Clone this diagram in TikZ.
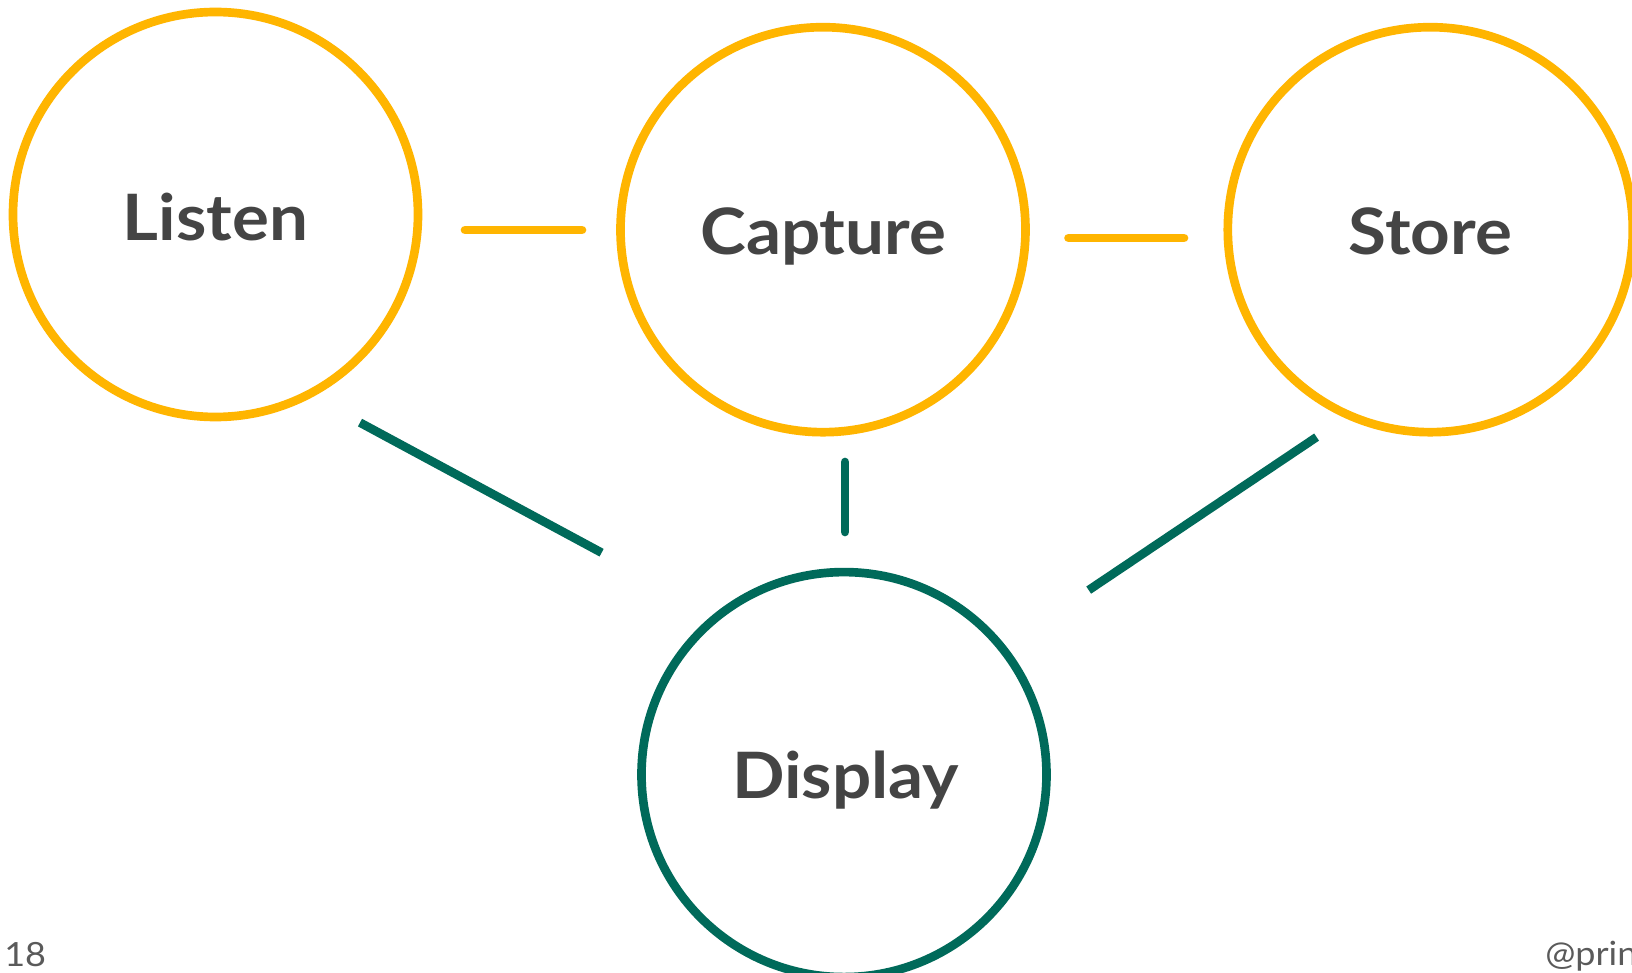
\documentclass[tikz,border=0pt]{standalone}
\usepackage{fontspec}
\setmainfont{Lato}
\newfontfamily\labelfont{Lato}[UprightFont=* Bold, FakeStretch=1.08]
\newfontfamily\footfont{Lato}[FakeStretch=1.08]
\usetikzlibrary{calc}
\definecolor{sunny}{HTML}{FFB500}
\definecolor{pine}{HTML}{006A5A}
\definecolor{ink}{HTML}{444444}
\definecolor{foot}{HTML}{5A5A5A}
\tikzset{
  ring/.style={circle, draw, line width=6.5pt, minimum size=303.75pt, inner sep=0pt},
  yring/.style={ring, draw=sunny},
  gring/.style={ring, draw=pine},
  word/.style={anchor=base, text=ink, font=\labelfont\fontsize{48}{48}\selectfont, inner sep=0pt},
  ylink/.style={draw=sunny, line width=6.5pt, line cap=round},
  glink/.style={draw=pine, line width=6.5pt},
  glinkr/.style={draw=pine, line width=6.5pt, line cap=round},
  footer/.style={text=foot, font=\footfont\fontsize{25}{25}\selectfont, inner sep=0pt}
}
\begin{document}
\begin{tikzpicture}[x=0.75pt, y=-0.75pt]
\useasboundingbox (0,0) rectangle (1632,973);
\clip (0,0) rectangle (1632,973);
\fill[white] (0,0) rectangle (1632,973);

\node[yring] (listen) at (215.5,214.5) {};
\node[yring] (capture) at (823,229.7) {};
\node[yring] (store) at (1430.3,229.7) {};
\node[gring] (display) at (844,774.6) {};

\node[word] (tlisten) at (215.5,240.7) {Listen};
\node[word] (tcapture) at (823.3,255) {Capture};
\node[word] (tstore) at (1430.5,255) {Store};
\node[word] (tdisplay) at (845.8,798.3) {Display};

\coordinate (lc1) at (465,230);
\coordinate (lc2) at (582,230);
\coordinate (cs1) at (1068.5,238);
\coordinate (cs2) at (1184,238);
\coordinate (ld1) at (360,422.6);
\coordinate (ld2) at (601.6,552.7);
\coordinate (cd1) at (845,462);
\coordinate (cd2) at (845,532);
\coordinate (sd1) at (1316.6,437.1);
\coordinate (sd2) at (1088.7,590.1);

\draw[ylink] (lc1) -- (lc2);
\draw[ylink] (cs1) -- (cs2);
\draw[glink] (ld1) -- (ld2);
\draw[glinkr] (cd1) -- (cd2);
\draw[glink] (sd1) -- (sd2);

\node[footer, anchor=base west] (page) at (4,966.7) {18};
\node[footer, anchor=base west] (handle) at (1545,965) {@prin};
\end{tikzpicture}
\end{document}
